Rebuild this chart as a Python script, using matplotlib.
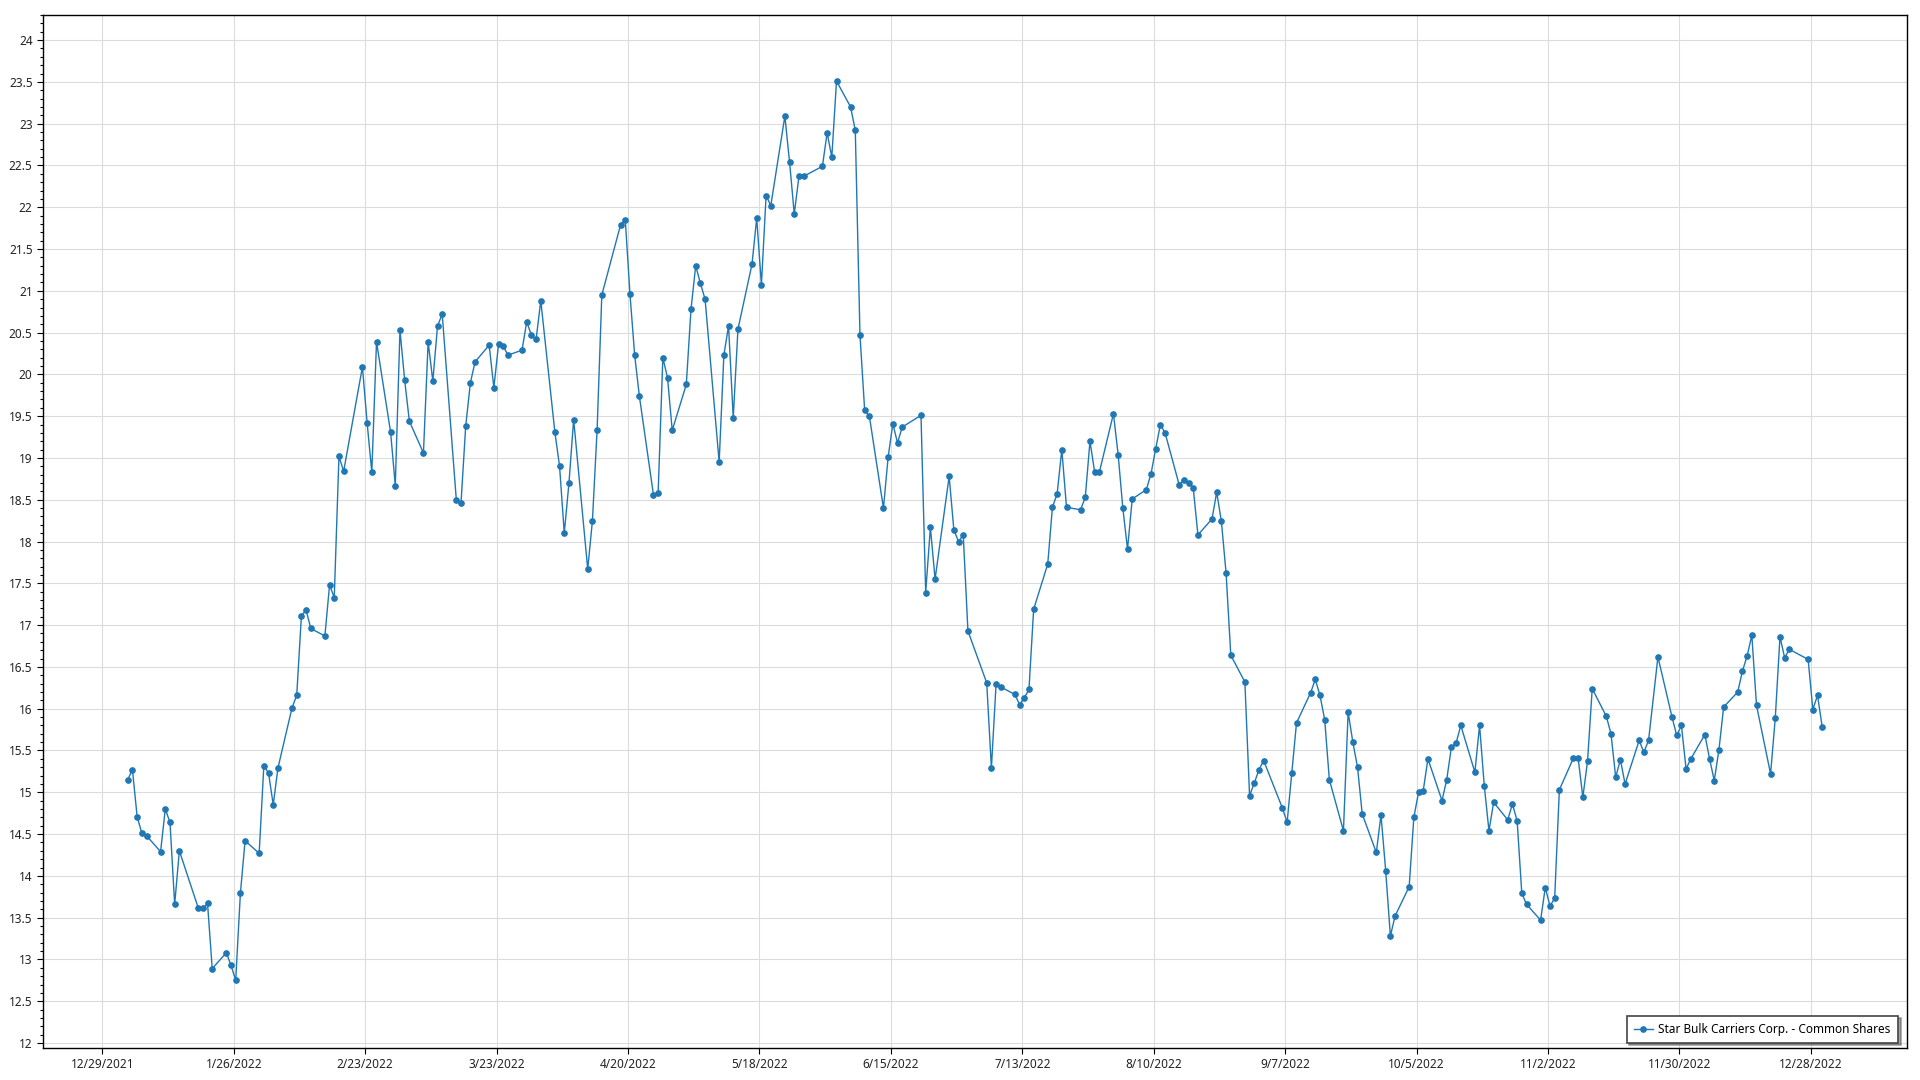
import numpy as np
import pandas as pd
import matplotlib
matplotlib.use("Agg")
import matplotlib.pyplot as plt
from matplotlib.ticker import MultipleLocator, FuncFormatter

# closing prices, one list per month (trading days of 2022)
jan = [15.15, 15.27, 14.71, 14.51, 14.48, 14.29, 14.80, 14.64, 13.66, 14.30,
       13.62, 13.61, 13.67, 12.89, 13.08, 12.93, 12.75, 13.79, 14.42, 14.27]
feb = [15.32, 15.23, 14.85, 15.29, 16.01, 16.16, 17.11, 17.18, 16.96, 16.87,
       17.48, 17.33, 19.02, 18.84, 20.09, 19.42, 18.83, 20.39, 19.31]
mar = [18.67, 20.53, 19.93, 19.44, 19.06, 20.39, 19.92, 20.58, 20.72, 18.50,
       18.46, 19.38, 19.90, 20.15, 20.35, 19.84, 20.36, 20.34, 20.23, 20.29,
       20.63, 20.47, 20.42]
apr = [20.88, 19.31, 18.90, 18.10, 18.70, 19.46, 17.67, 18.25, 19.34, 20.95,
       21.79, 21.85, 20.96, 20.23, 19.74, 18.56, 18.58, 20.20, 19.96, 19.33]
may = [19.88, 20.78, 21.30, 21.09, 20.90, 18.95, 20.23, 20.58, 19.48, 20.54,
       21.32, 21.87, 21.07, 22.14, 22.02, 23.09, 22.54, 21.92, 22.37, 22.37,
       22.49]
jun = [22.89, 22.60, 23.51, 23.20, 22.92, 20.47, 19.57, 19.50, 18.40, 19.01,
       19.41, 19.18, 19.37, 19.51, 17.39, 18.17, 17.55, 18.78, 18.14, 18.00,
       18.08]
jul = [16.93, 16.31, 15.29, 16.30, 16.26, 16.17, 16.05, 16.13, 16.23, 17.19,
       17.73, 18.41, 18.57, 19.10, 18.41, 18.38, 18.53, 19.20, 18.83, 18.83]
aug = [19.53, 19.04, 18.40, 17.91, 18.51, 18.62, 18.81, 19.11, 19.40, 19.30,
       18.68, 18.74, 18.70, 18.64, 18.08, 18.27, 18.59, 18.24, 17.62, 16.64,
       16.32, 14.96, 15.11]
sep = [15.27, 15.38, 14.81, 14.64, 15.23, 15.83, 16.19, 16.35, 16.16, 15.87,
       15.15, 14.54, 15.96, 15.60, 15.30, 14.74, 14.28, 14.73, 14.06, 13.28,
       13.52]
oct_ = [13.87, 14.70, 15.00, 15.02, 15.40, 14.90, 15.15, 15.54, 15.59, 15.80,
        15.24, 15.80, 15.08, 14.54, 14.88, 14.67, 14.86, 14.66, 13.79, 13.66,
        13.47]
nov = [13.86, 13.64, 13.73, 15.03, 15.41, 15.41, 14.94, 15.37, 16.24, 15.91,
       15.70, 15.18, 15.39, 15.10, 15.62, 15.48, 15.62, 16.62, 15.90, 15.68,
       15.80]
dec = [15.28, 15.40, 15.69, 15.40, 15.14, 15.51, 16.02, 16.20, 16.45, 16.63,
       16.88, 16.04, 15.22, 15.89, 16.86, 16.61, 16.71, 16.59, 15.99, 16.16,
       15.78]

holidays = ["2022-01-17", "2022-02-21", "2022-04-15", "2022-05-30", "2022-06-20",
            "2022-07-04", "2022-09-05", "2022-11-24", "2022-12-26"]
label = "Star Bulk Carriers Corp. - Common Shares"

prices = jan + feb + mar + apr + may + jun + jul + aug + sep + oct_ + nov + dec
days = pd.bdate_range("2022-01-03", "2022-12-30")
days = days[~days.isin(pd.to_datetime(holidays))]

plt.rcParams["font.family"] = ["Noto Sans", "DejaVu Sans"]

fig = plt.figure(figsize=(19.2, 10.8), dpi=100)
ax = fig.add_axes([0.0224, 0.0296, 0.9708, 0.9565])

ax.plot(days, prices, color="#1f77b4", linewidth=1.0, marker="o",
        markersize=3.8, label=label)

ax.set_ylim(11.94, 24.3)
ax.yaxis.set_major_locator(MultipleLocator(0.5))
ax.yaxis.set_minor_locator(MultipleLocator(0.1))
ax.yaxis.set_major_formatter(FuncFormatter(lambda v, p: f"{v:g}"))

# date ticks every four weeks (the source axis sits a few hours ahead of midnight)
tick_days = pd.date_range("2021-12-29", "2022-12-28", freq="28D")
ax.set_xticks(tick_days - pd.Timedelta(hours=10))
ax.set_xticklabels([f"{d.month}/{d.day}/{d.year}" for d in tick_days])
ax.margins(x=0.05)

ax.grid(True, which="major", color="#dcdcdc", linewidth=0.8)
ax.set_axisbelow(True)
ax.tick_params(axis="both", which="major", labelsize=8.5, length=4, width=0.8,
               color="black", labelcolor="#222222")
ax.tick_params(axis="y", which="minor", length=2.5, width=0.8)
for s in ax.spines.values():
    s.set_color("black")
    s.set_linewidth(1.0)

leg = ax.legend(loc="lower right", fontsize=8.5, fancybox=False, shadow=True,
                framealpha=1, edgecolor="#444444", borderpad=0.6,
                handlelength=1.6, handletextpad=0.5,
                bbox_to_anchor=(0.998, 0.0), borderaxespad=0.45)
leg.get_frame().set_linewidth(1.2)

fig.savefig("out.png", dpi=100)
